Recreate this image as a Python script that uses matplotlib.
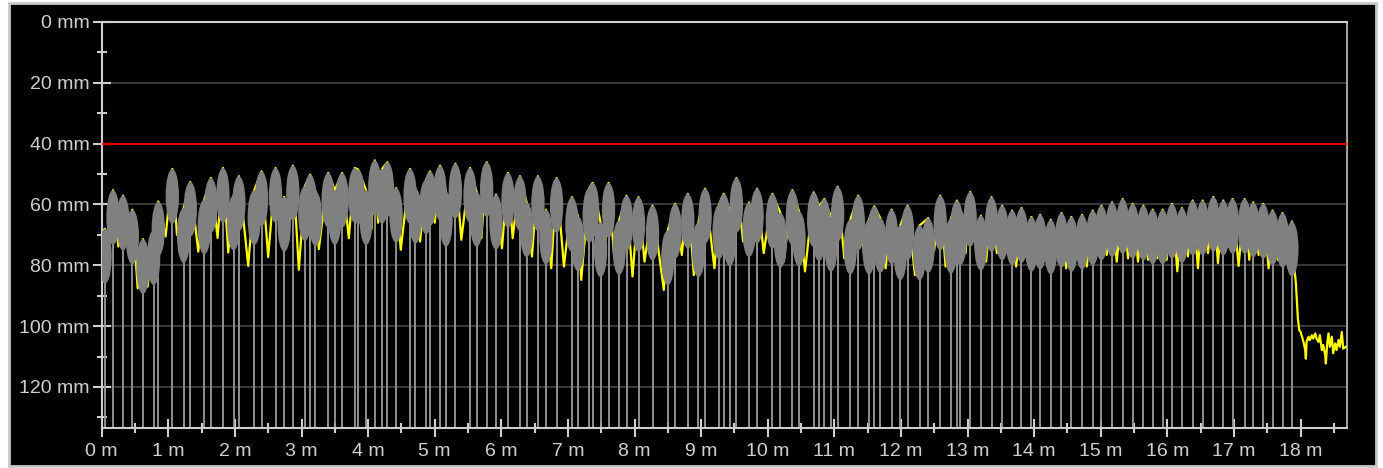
import numpy as np
import matplotlib
matplotlib.use('Agg')
import matplotlib.pyplot as plt
from matplotlib.patches import Ellipse, Rectangle

plt.rcParams['font.family'] = ['Liberation Sans', 'DejaVu Sans']

# plants: position along row (m) and top of canopy (mm)
plant_x = [0.05, 0.17, 0.32, 0.46, 0.62, 0.78, 0.85, 1.06, 1.23, 1.33, 1.54, 1.64, 1.82, 1.98, 2.06,
           2.29, 2.40, 2.61, 2.74, 2.87, 3.05,
           3.13, 3.21, 3.40, 3.50, 3.61, 3.80, 3.85, 3.97, 4.10, 4.21, 4.29, 4.42, 4.63, 4.71, 4.87,
           4.93, 5.08, 5.17, 5.31, 5.53, 5.63, 5.78, 5.92, 6.10,
           6.28, 6.38, 6.55, 6.67, 6.83, 7.06, 7.15, 7.32, 7.37, 7.49, 7.61, 7.77, 7.88, 8.06, 8.27,
           8.50, 8.61, 8.80, 8.96, 9.06, 9.27,
           9.34, 9.43, 9.53, 9.72, 9.84, 10.07, 10.19, 10.37, 10.47, 10.69, 10.77, 10.85, 10.95, 11.05,
           11.24, 11.36, 11.52, 11.60, 11.69, 11.86, 11.99, 12.10, 12.28, 12.41,
           12.59, 12.75, 12.84, 12.89, 13.04, 13.20, 13.36, 13.52, 13.67, 13.81, 13.96, 14.09, 14.25,
           14.41, 14.56, 14.72, 14.88, 15.01, 15.17, 15.33, 15.48,
           15.64, 15.78, 15.93, 16.07, 16.22, 16.38, 16.53, 16.69, 16.84, 16.98, 17.16, 17.29, 17.44,
           17.58, 17.73, 17.87]
plant_top = [68, 55.3, 57.1, 61.7, 71.4, 68.5, 59, 48.3, 61.2, 52.6, 58.4, 51.3, 48, 57.1, 50.7,
             55.3, 49.1, 48, 57.5, 47.2, 54,
             50.2, 55.7, 49.6, 55.3, 49.6, 48, 48.5, 55.3, 45.5, 48.3, 46.1, 54.6, 48.3, 54.8, 51.8,
             49.1, 47.2, 55.9, 46.6, 48, 55.9, 46.1, 56.8, 49.6,
             50.7, 59.3, 50.7, 61.7, 51.3, 57.6, 63.9, 54.6, 52.9, 65.9, 52.9, 65.2, 57.1, 57.6, 60.4,
             68.5, 59.8, 56.5, 65.9, 54.8, 60,
             56.5, 62.3, 51.3, 59.3, 54.8, 56.5, 62.8, 55.3, 62.3, 56, 60.6, 58.2, 64.1, 54.2,
             65, 57.1, 65, 60.6, 64.5, 61.7, 66.9, 60.4, 66.9, 64.5,
             57.1, 64.7, 58.7, 62, 55.9, 63.7, 57.6, 60.4, 62, 61.2, 64.1, 63.4, 65,
             62.8, 64.1, 63.4, 62, 60.4, 59.3, 58.2, 59.8,
             60.4, 61.7, 61.7, 59.8, 61.2, 58.7, 58.7, 57.5, 58.7, 58.2, 58.2, 59.3, 59.8,
             62, 62.8, 65.6]

# low points of the measured profile between plants
dip_x = [0.0, 0.12, 0.25, 0.39, 0.54, 0.69, 0.96, 1.13, 1.45, 1.74, 1.90, 2.20, 2.50, 2.68, 2.80,
         2.96, 3.26, 3.71, 4.05, 4.15, 4.36, 4.49, 4.78, 5.00, 5.24, 5.40, 5.70, 5.85, 6.01, 6.17,
         6.46, 6.61, 6.75, 6.94, 7.20, 7.54, 7.69, 7.97, 8.15, 8.44, 8.71, 8.89, 9.20, 9.63, 9.78,
         9.94, 10.24, 10.56, 11.15, 11.45, 11.77, 11.92, 12.21, 12.50, 12.67, 12.97, 13.13, 13.28,
         13.44, 13.59, 13.73, 13.88, 14.02, 14.17, 14.33, 14.48, 14.64, 14.79, 14.95, 15.09, 15.24,
         15.41, 15.56, 15.71, 15.85, 15.99, 16.15, 16.31, 16.46, 16.61, 16.76, 16.91, 17.07, 17.23,
         17.37, 17.52, 17.66, 17.81]
dip_mm = [69, 72, 73.8, 72, 87.6, 87, 70.5, 70, 75.5, 71, 75.8, 80.2, 77.3, 70, 72,
          81.5, 74.7, 71.1, 68.1, 66, 66, 74.9, 72.2, 66, 64, 71.6, 71.1, 66, 74.4, 71.1,
          77.1, 74, 81, 80.4, 84.8, 81, 76, 83.7, 78.8, 88.1, 76.6, 83.2, 81, 72.2, 74,
          76, 78.8, 82, 77.7, 77.1, 81, 78, 83.2, 75, 80.4, 76, 74.9, 78.8,
          76, 75.5, 80.4, 77.1, 76, 75, 77, 81, 77, 80.4, 76, 76.6, 78.8,
          77.7, 78.8, 78.2, 77.7, 78.2, 82, 77.1, 81, 76, 79.3, 73.8, 80.2, 78.2,
          76.6, 81, 78.2, 79.9]

# bare ground after the last plant
tail_x = [17.90, 17.93, 17.96, 17.98, 18.00, 18.03, 18.05, 18.07, 18.08, 18.09, 18.12, 18.14, 18.17,
          18.19, 18.22, 18.24, 18.27, 18.29, 18.32, 18.34, 18.37, 18.38, 18.40, 18.42, 18.44, 18.47,
          18.49, 18.52, 18.54, 18.57, 18.59, 18.62, 18.64, 18.68]
tail_mm = [79.3, 85.9, 97.5, 101.3, 101.9, 104.1, 105.7, 107.9, 110.7, 105.2, 103.5, 104.6, 103,
           104.1, 102.4, 104.1, 105.2, 103, 107.9, 106.2, 109.5, 112.3, 105.7, 102.4, 106.8, 103.5,
           108.9, 105.7, 107.9, 104.6, 106.8, 101.9, 107.4, 106.8]

threshold = 40
y_ticks = [0, 20, 40, 60, 80, 100, 120]
x_ticks = list(range(0, 19))

XMAX = 18.69
YMAX = 133.6
ELL_W = 0.2
ELL_H = 18
fg = '#cfcfcf'

fig = plt.figure(figsize=(13.83, 4.68), dpi=100, facecolor='white')
fig.patches.append(Rectangle((9 / 1383, 0.004), 1367 / 1383, 0.99, transform=fig.transFigure,
                             facecolor='black', edgecolor='#c8c8c8', linewidth=2, zorder=-10))
ax = fig.add_axes([101.7 / 1383, 1 - 428.3 / 468, (1346.5 - 101.7) / 1383, (428.3 - 22) / 468])
ax.set_facecolor('black')

# measured profile (yellow)
pts = sorted(zip(list(plant_x) + dip_x, list(plant_top) + dip_mm)) + list(zip(tail_x, tail_mm))
px, py = zip(*pts)
ax.plot(px, py, color='#ffff00', lw=1.6, zorder=3)

# plants: stem line + grey ellipse
centers = [t + ELL_H / 2 for t in plant_top]
ax.vlines(plant_x, centers, YMAX, color='#9a9a9a', lw=1.3, zorder=2)
for x, c in zip(plant_x, centers):
    ax.add_patch(Ellipse((x, c), ELL_W, ELL_H, facecolor='#808080', edgecolor='none', zorder=4))

ax.axhline(threshold, color='#e00000', lw=1.6, zorder=5)

ax.set_xlim(0, XMAX)
ax.set_ylim(YMAX, 0)
ax.set_yticks(y_ticks)
ax.set_yticklabels(['{} mm'.format(v) for v in y_ticks])
ax.set_yticks(np.arange(10, 131, 20), minor=True)
ax.set_xticks(x_ticks)
ax.set_xticklabels(['{} m'.format(v) for v in x_ticks])
ax.set_xticks(np.arange(0.5, 18.6, 1), minor=True)
ax.grid(axis='y', color='#444444', lw=1.2, zorder=1)
ax.set_axisbelow(True)

ax.tick_params(which='major', direction='inout', length=13, width=1.5, color=fg,
               labelcolor=fg, labelsize=14, pad=2)
ax.tick_params(which='minor', direction='inout', length=7.5, width=1.5, color=fg)
ax.tick_params(axis='x', which='major', pad=4)
for s in ax.spines.values():
    s.set_color(fg)
    s.set_linewidth(1.5)
ax.spines['right'].set_color('#a0a0a0')

fig.savefig('out.png', dpi=100, facecolor=fig.get_facecolor())
